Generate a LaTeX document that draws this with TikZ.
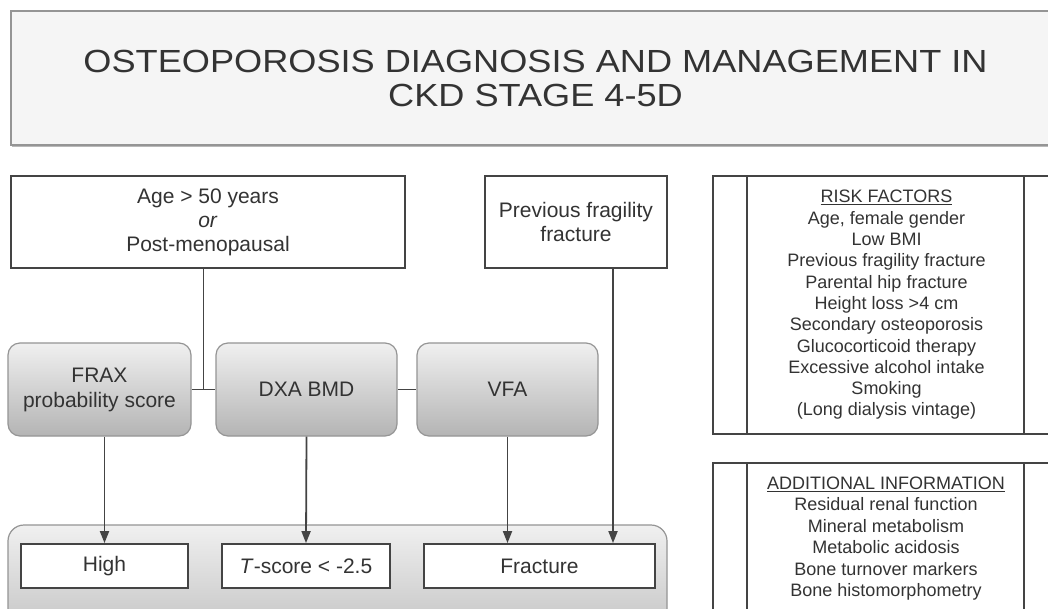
\documentclass[tikz,border=0pt]{standalone}
\usepackage{fontspec}
\setmainfont{Liberation Sans}
\newfontfamily\titlefont[FakeStretch=1.13]{Liberation Sans}
\usetikzlibrary{arrows.meta,calc,shadows}
\definecolor{txt}{HTML}{333333}
\definecolor{ln}{HTML}{444444}
\definecolor{bd}{HTML}{959595}
\definecolor{gtop}{HTML}{F0F0F0}
\definecolor{gbot}{HTML}{B4B4B4}
\begin{document}
\begin{tikzpicture}[x=1pt,y=-1pt,
  every node/.style={text=txt},
  titlebox/.style={draw=bd, line width=1.3pt, fill=gray!8, inner sep=0pt, align=center,
    drop shadow={shadow xshift=1pt, shadow yshift=-2pt, fill=gray!55, opacity=1},
    font=\titlefont\fontsize{32}{34}\selectfont},
  plain/.style={draw=ln, line width=1.8pt, fill=white, inner sep=0pt, align=center,
    font=\fontsize{21}{24}\selectfont},
  grad/.style={draw=bd, line width=1.2pt, rounded corners=12pt, top color=gtop, bottom color=gbot,
    inner sep=0pt, align=center, font=\fontsize{21}{25}\selectfont},
  panel/.style={draw=ln, line width=1.8pt, fill=white, inner sep=0pt, align=center,
    font=\fontsize{18}{21.3}\selectfont},
  conn/.style={draw=ln, line width=1.8pt},
  arr/.style={conn, -{Triangle[length=12pt,width=9pt]}}]
\useasboundingbox (0,0) rectangle (1048,608);
\clip (0,0) rectangle (1048,608);
\fill[white] (0,0) rectangle (1048,608);

% title
\node[titlebox, minimum width=1049, minimum height=134] (title) at (535.5,78)
  {OSTEOPOROSIS DIAGNOSIS AND MANAGEMENT IN\\CKD STAGE 4-5D};

% top boxes
\node[plain, minimum width=394, minimum height=92] (age) at (208,222)
  {Age > 50 years\\\textit{or}\\Post-menopausal};
\node[plain, minimum width=182, minimum height=92] (prev) at (576,222)
  {Previous fragility\\fracture};

% test boxes
\node[grad, minimum width=183, minimum height=93] (frax) at (99.5,389.5)
  {FRAX\\probability score};
\node[grad, minimum width=181, minimum height=93] (dxa) at (306.5,389.5) {DXA BMD};
\node[grad, minimum width=181, minimum height=93] (vfa) at (507.5,389.5) {VFA};

% outcomes container
\node[draw=bd, line width=1.2pt, rounded corners=16pt, top color=gtop, bottom color=gray!55,
  minimum width=659, minimum height=135, inner sep=0pt] (outcomes) at (337.5,592.5) {};
\node[plain, minimum width=167, minimum height=44] (high) at (104.5,566) {High};
\node[plain, minimum width=168, minimum height=44] (tscore) at (306,566) {\textit{T}-score < -2.5};
\node[plain, minimum width=231, minimum height=44] (fracture) at (539.5,566) {Fracture};

% right panels
\node[panel, minimum width=347, minimum height=258] (risk) at (886.5,305)
  {\underline{RISK FACTORS}\\Age, female gender\\Low BMI\\Previous fragility fracture\\
   Parental hip fracture\\Height loss >4 cm\\Secondary osteoporosis\\Glucocorticoid therapy\\
   Excessive alcohol intake\\Smoking\\(Long dialysis vintage)};
\draw[conn] ([xshift=35]risk.north west) -- ([xshift=35]risk.south west);
\draw[conn] ([xshift=312]risk.north west) -- ([xshift=312]risk.south west);

\node[panel, minimum width=347, minimum height=197] (add) at (886.5,561.5) {};
\draw[conn] ([xshift=35]add.north west) -- ([xshift=35]add.south west);
\draw[conn] ([xshift=312]add.north west) -- ([xshift=312]add.south west);
\node[align=center, inner sep=0pt, font=\fontsize{18}{21.4}\selectfont] (addtext) at (886,538.5)
  {\underline{ADDITIONAL INFORMATION}\\Residual renal function\\Mineral metabolism\\
   Metabolic acidosis\\Bone turnover markers\\Bone histomorphometry};

% connectors
\coordinate (j1) at ($(frax.east)!0.5!(dxa.west)$);
\draw[conn] (frax.east) -- (dxa.west);
\draw[conn] (age.south -| j1) -- (j1);
\draw[conn] (dxa.east) -- (vfa.west);
\draw[arr] (frax.south -| high.north) -- (high.north);
\draw[arr] (dxa.south) -- (tscore.north);
\draw[arr] (vfa.south) -- (vfa.south |- fracture.north);
\coordinate (pf) at ([xshift=37]prev.south);
\draw[arr] (pf) -- (pf |- fracture.north);
\end{tikzpicture}
\end{document}
